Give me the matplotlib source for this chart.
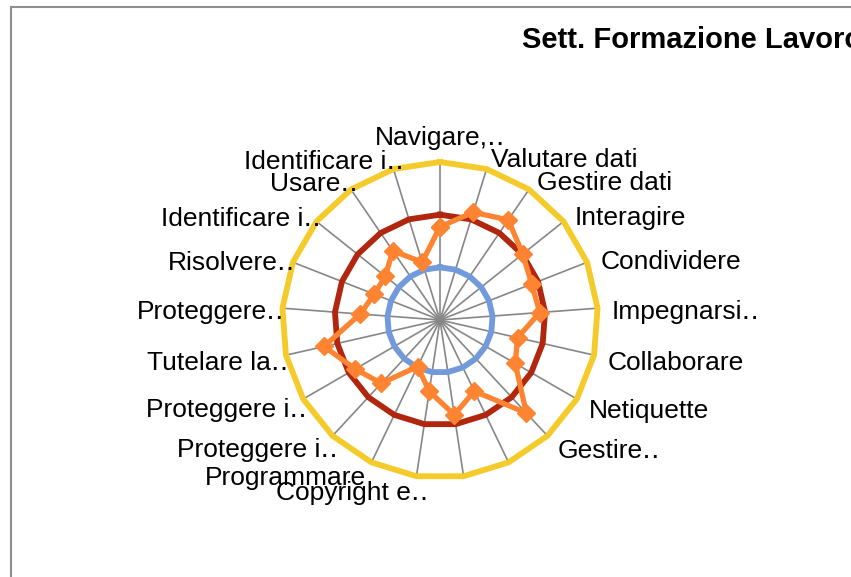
import numpy as np
import matplotlib.pyplot as plt

plt.rcParams['font.family'] = ['Liberation Sans', 'DejaVu Sans']

# competenze (etichette come mostrate nel grafico)
categories = ["Navigare,‥", "Valutare dati", "Gestire dati", "Interagire", "Condividere",
              "Impegnarsi‥", "Collaborare", "Netiquette", "Gestire‥", "Sviluppare‥",
              "Integrare‥", "Copyright e‥", "Programmare", "Proteggere i‥", "Proteggere i‥",
              "Tutelare la‥", "Proteggere‥", "Risolvere‥", "Identificare i‥", "Usare‥",
              "Identificare i‥"]
hidden = [9, 10]  # etichette non mostrate (sovrapposte)

# punteggio medio del settore
values = [1.77, 2.14, 2.30, 2.01, 1.87, 1.90, 1.51, 1.65, 2.41, 1.50, 1.82,
          1.37, 0.98, 1.64, 1.86, 2.26, 1.52, 1.34, 1.33, 1.59, 1.15]

# livelli di riferimento
base = 1
intermedio = 2
avanzato = 3

title = "Sett. Formazione Lavoro"

n = len(categories)
angles = np.arange(n) * 2 * np.pi / n
ang_c = np.append(angles, angles[0])

fig = plt.figure(figsize=(8.51, 5.77), dpi=100)
ax = fig.add_axes([282 / 851, 99 / 577, 316 / 851, 316 / 577], projection='polar')
ax.set_theta_zero_location('N')
ax.set_theta_direction(-1)
ax.set_ylim(0, avanzato)
ax.axis('off')

# raggi
for a in angles:
    ax.plot([a, a], [0, avanzato], color='#878787', lw=1.2, clip_on=False, zorder=1)

ax.plot(ang_c, [avanzato] * (n + 1), color='#F4CB2A', lw=4.2, clip_on=False, zorder=2)
ax.plot(ang_c, [intermedio] * (n + 1), color='#B0260F', lw=4.2, clip_on=False, zorder=2)
ax.plot(ang_c, [base] * (n + 1), color='#7299DA', lw=4.2, clip_on=False, zorder=2)
ax.plot(ang_c, values + values[:1], color='#FF8432', lw=3.8, marker='D', ms=9.5,
        clip_on=False, zorder=3)

for i, lab in enumerate(categories):
    if i in hidden:
        continue
    th = angles[i]
    s = np.sin(th)
    if abs(s) < 0.01:
        ax.annotate(lab, xy=(th, 3.28), xytext=(0, -3), textcoords='offset pixels',
                    ha='center', va='bottom', fontsize=19, annotation_clip=False)
    elif s > 0:
        ax.annotate(lab, xy=(th, 3.27), xytext=(0, -5), textcoords='offset pixels',
                    ha='left', va='center', fontsize=19, annotation_clip=False)
    else:
        dx = 0 if lab == "Programmare" else 14
        ax.annotate(lab, xy=(th, 3.23), xytext=(dx, -5),
                    textcoords='offset pixels', ha='right', va='center',
                    fontsize=19, annotation_clip=False)

fig.text(522 / 851, 1 - 40 / 577, title, fontsize=21, fontweight='bold',
         ha='left', va='center')

# bordo dell'area grafico
fig.add_artist(plt.Line2D([11 / 851, 11 / 851], [0, 1 - 7 / 577], color='#8e8e8e', lw=1.5))
fig.add_artist(plt.Line2D([11 / 851, 1], [1 - 7 / 577, 1 - 7 / 577], color='#8e8e8e', lw=1.5))

fig.savefig('out.png', dpi=100)
